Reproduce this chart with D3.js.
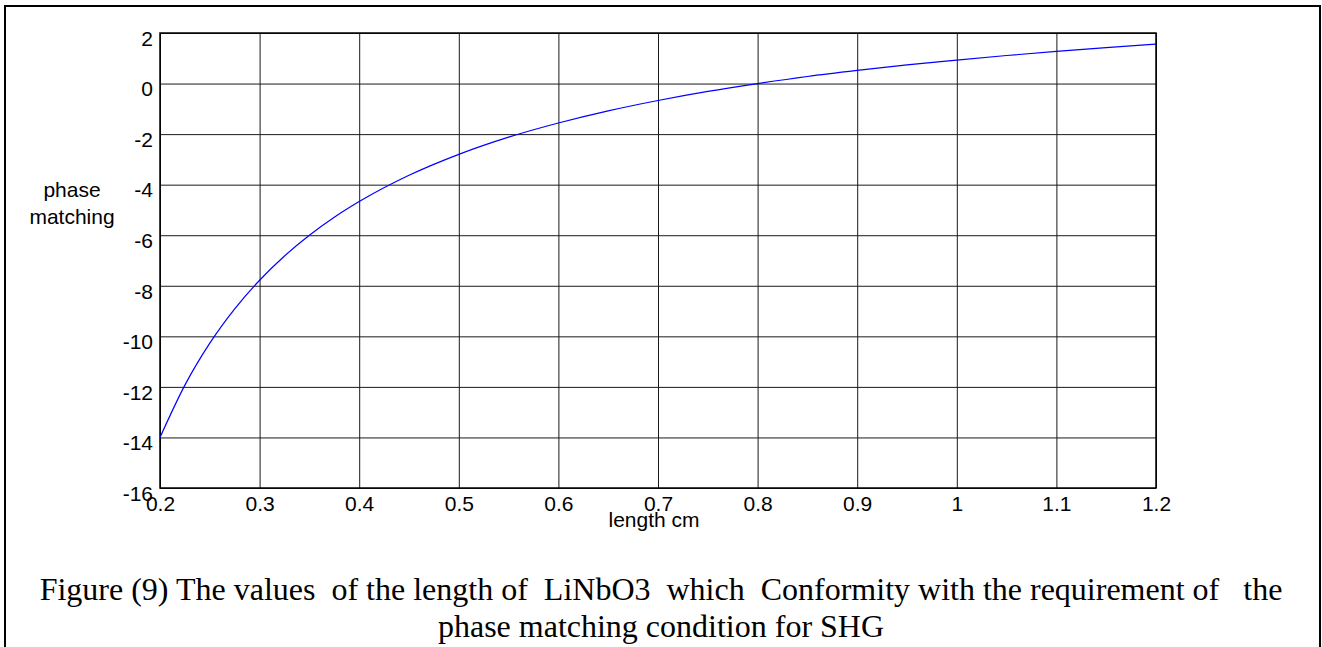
<!DOCTYPE html>
<meta charset="utf-8">
<html>
<style>
  body { margin: 0; background: #fff; }
</style>
<body>
<script src="https://d3js.org/d3.v7.min.js"></script>
<script>
// phase matching values
var lengthCm = [0.2, 0.225, 0.25, 0.275, 0.3, 0.325, 0.35, 0.375, 0.4, 0.45, 0.5, 0.55,
                0.6, 0.65, 0.7, 0.75, 0.8, 0.85, 0.9, 0.95, 1.0, 1.05, 1.1, 1.15, 1.2];
var phaseMatching = [-14.0, -11.93, -10.27, -8.91, -7.78, -6.82, -6.0, -5.29, -4.67, -3.63, -2.8, -2.12,
                     -1.56, -1.08, -0.67, -0.31, 0.0, 0.28, 0.52, 0.74, 0.93, 1.11, 1.27, 1.42, 1.56];
var xTicks = [0.2, 0.3, 0.4, 0.5, 0.6, 0.7, 0.8, 0.9, 1, 1.1, 1.2];
var yTicks = [2, 0, -2, -4, -6, -8, -10, -12, -14, -16];
var captionLines = ["Figure (9) The values  of the length of  LiNbO3  which  Conformity with the requirement of   the",
                    "phase matching condition for SHG"];

var W = 1322, H = 647;
var svg = d3.select("body").append("svg").attr("width", W).attr("height", H);

// outer frame (bottom edge runs off the page)
svg.append("path")
  .attr("d", "M5,660 V6 H1320 V660")
  .attr("fill", "none").attr("stroke", "#000").attr("stroke-width", 2);

var pLeft = 160, pTop = 33, pRight = 1156, pBottom = 488;
var x = d3.scaleLinear().domain([0.2, 1.2]).range([pLeft, pRight]);
var y = d3.scaleLinear().domain([-16, 2]).range([pBottom, pTop]);

var font = "'Liberation Sans', Arial, sans-serif";
var plain = function (d) { return String(d); };

// grid + tick labels
var gx = svg.append("g").attr("transform", "translate(0," + pBottom + ")")
  .call(d3.axisBottom(x).tickValues(xTicks).tickFormat(plain).tickSize(-(pBottom - pTop)).tickSizeOuter(0).tickPadding(8));
var gy = svg.append("g").attr("transform", "translate(" + pLeft + ",0)")
  .call(d3.axisLeft(y).tickValues(yTicks).tickFormat(plain).tickSize(-(pRight - pLeft)).tickSizeOuter(0).tickPadding(7));

[gx, gy].forEach(function (g) {
  g.select(".domain").remove();
  g.selectAll(".tick line").attr("stroke", "#1a1a1a").attr("stroke-width", 1);
  g.selectAll("text").attr("fill", "#000").style("font-family", font).style("font-size", "21px");
});
gy.selectAll("text").attr("dy", "0.32em").attr("y", 5.5);

// plot box
svg.append("rect")
  .attr("x", pLeft).attr("y", pTop).attr("width", pRight - pLeft).attr("height", pBottom - pTop)
  .attr("fill", "none").attr("stroke", "#000").attr("stroke-width", 1.5);

// curve
var pts = lengthCm.map(function (d, i) { return [d, phaseMatching[i]]; });
svg.append("path")
  .datum(pts)
  .attr("fill", "none").attr("stroke", "#0000ff").attr("stroke-width", 1.2)
  .attr("d", d3.line().x(function (d) { return x(d[0]); }).y(function (d) { return y(d[1]); }).curve(d3.curveMonotoneX));

// axis titles
svg.selectAll("ylab").data(["phase", "matching"]).enter().append("text")
  .attr("x", 72).attr("y", function (d, i) { return 197 + i * 27; })
  .attr("text-anchor", "middle")
  .style("font-family", font).style("font-size", "21px")
  .text(function (d) { return d; });

svg.append("text")
  .attr("x", 654).attr("y", 527).attr("text-anchor", "middle")
  .style("font-family", font).style("font-size", "21px")
  .text("length cm");

// caption
svg.selectAll("cap").data(captionLines).enter().append("text")
  .attr("x", 661).attr("y", function (d, i) { return 600 + i * 37; })
  .attr("text-anchor", "middle")
  .attr("xml:space", "preserve").style("white-space", "pre")
  .style("font-family", "'Liberation Serif', 'Times New Roman', serif").style("font-size", "32px")
  .text(function (d) { return d; });
</script>
</body>
</html>
